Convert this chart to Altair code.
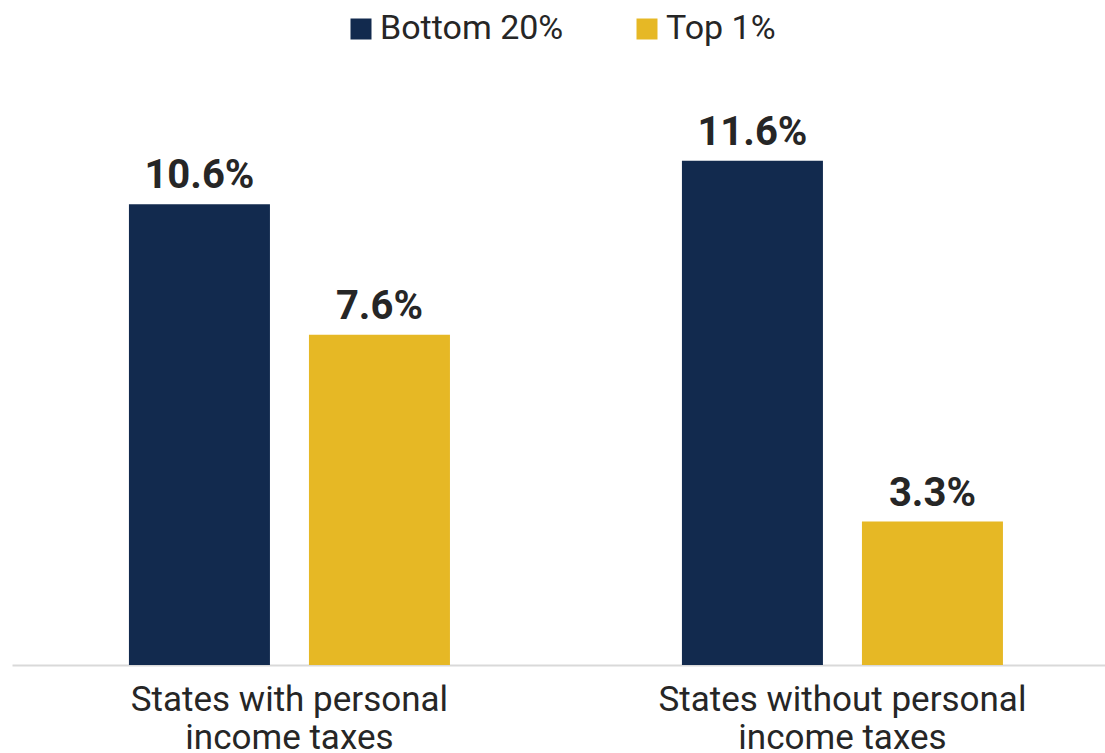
import altair as alt
import pandas as pd

categories = ["States with personal\nincome taxes", "States without personal\nincome taxes"]
groups = ["Bottom 20%", "Top 1%"]
bottom20 = [10.6, 11.6]
top1 = [7.6, 3.3]
colors = ["#122a4e", "#e6b825"]

rows = []
for i, c in enumerate(categories):
    rows.append({"category": c, "group": groups[0], "value": bottom20[i]})
    rows.append({"category": c, "group": groups[1], "value": top1[i]})
df = pd.DataFrame(rows)

x = alt.X(
    "category:N", sort=categories, title=None,
    scale=alt.Scale(paddingInner=0.4195, paddingOuter=0.198, align=0.534),
    axis=alt.Axis(
        labelAngle=0, ticks=False, domainColor="#d9d9d9", domainWidth=2,
        labelFont="Roboto", labelFontSize=35, labelColor="#262626",
        labelPadding=17, labelLineHeight=38, labelLimit=0,
        labelExpr="split(datum.label, '\\n')", labelBaseline="top",
    ),
)
xo = alt.XOffset("group:N", sort=groups, scale=alt.Scale(paddingInner=0.2167, paddingOuter=0))
y = alt.Y("value:Q", scale=alt.Scale(domain=[0, 13.46], nice=False), axis=None)

base = alt.Chart(df).transform_calculate(label="format(datum.value, '.1f') + '%'")

bars = base.mark_bar().encode(
    x=x, xOffset=xo, y=y,
    color=alt.Color(
        "group:N", sort=groups,
        scale=alt.Scale(domain=groups, range=colors),
        legend=alt.Legend(
            orient="none", legendX=332, legendY=-68, direction="horizontal",
            title=None, symbolType="square", symbolSize=441, symbolStrokeWidth=0,
            symbolOpacity=1, labelFont="Roboto", labelFontSize=34, labelLimit=0,
            labelColor="#262626", labelOffset=2, columnPadding=66, padding=0,
        ),
    ),
)

labels = base.mark_text(
    dy=-16, baseline="alphabetic", font="Roboto", fontWeight="bold",
    fontSize=40, color="#262626",
).encode(x=x, xOffset=xo, y=y, text="label:N")

chart = (
    alt.layer(bars, labels)
    .properties(
        width=1093, height=585,
        autosize=alt.AutoSizeParams(type="none"),
        padding={"left": 12, "top": 80, "right": 0, "bottom": 88},
        background="white",
    )
    .configure_view(stroke=None)
)

chart.save("out.html", embed_options={"renderer": "svg", "actions": False})
